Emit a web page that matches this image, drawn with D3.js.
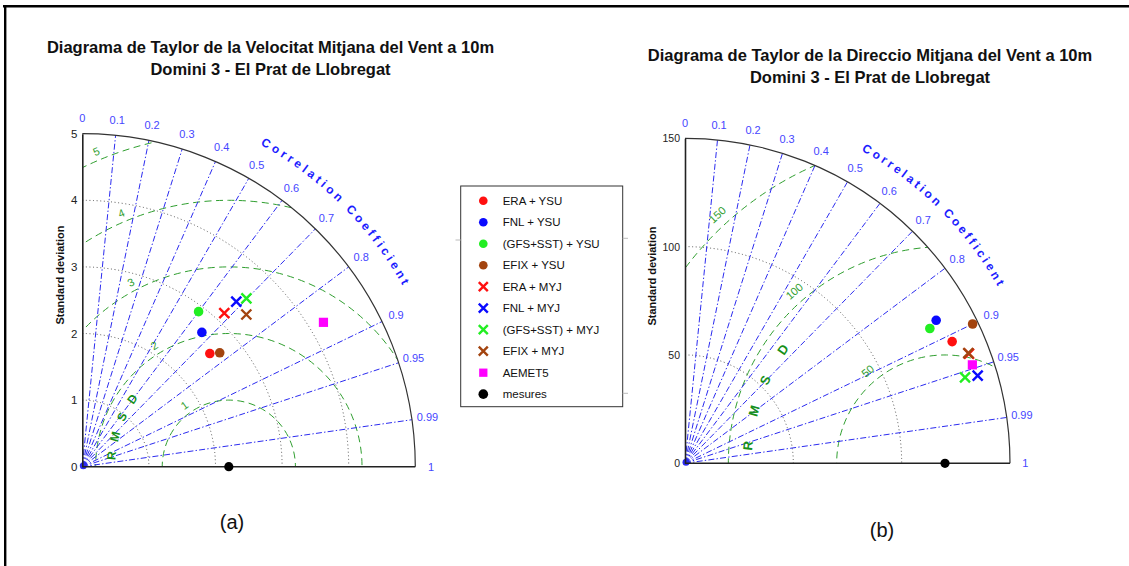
<!DOCTYPE html>
<html><head><meta charset="utf-8">
<script src="https://cdn.jsdelivr.net/npm/d3@7/dist/d3.min.js"></script>
<style>
body{margin:0;background:#fff;}
svg{display:block;font-family:"Liberation Sans",Arial,Helvetica,sans-serif;}
</style></head><body>
<svg id="chart" width="1129" height="566"></svg>
<script>
// ---------------- DATA ----------------
const seriesNames = ["ERA + YSU","FNL + YSU","(GFS+SST) + YSU","EFIX + YSU","ERA + MYJ","FNL + MYJ","(GFS+SST) + MYJ","EFIX + MYJ","AEMET5"];
const refName = "mesures";
const corrTickValues = [0,0.1,0.2,0.3,0.4,0.5,0.6,0.7,0.8,0.9,0.95,0.99,1];
const corrLineValues = [0.1,0.2,0.3,0.4,0.5,0.6,0.7,0.8,0.9,0.95,0.99];

// (a) wind speed
const velTitle = ["Diagrama de Taylor de la Velocitat Mitjana del Vent a 10m","Domini 3 - El Prat de Llobregat"];
const velStdTicks = [0,1,2,3,4,5];
const velStdArcs = [1,2,3,4];
const velRmsdTicks = [1,2,3,4,5];
const velRefStd = 2.2;
const velStd  = [2.56,2.70,2.91,2.68,3.14,3.39,3.53,3.36,4.22];
const velCorr = [0.748,0.665,0.600,0.770,0.679,0.682,0.698,0.733,0.858];

// (b) wind direction
const dirTitle = ["Diagrama de Taylor de la Direccio Mitjana del Vent a 10m","Domini 3 - El Prat de Llobregat"];
const dirStdTicks = [0,50,100,150];
const dirStdArcs = [50,100];
const dirRmsdTicks = [50,100,150];
const dirRefStd = 120;
const dirStd  = [135.5,133.4,129.0,147.5,140.5,141.0,135.2,140.3,140.2];
const dirCorr = [0.910,0.869,0.876,0.900,0.933,0.958,0.956,0.932,0.946];

// ---------------- STYLE ----------------
const seriesColors = ["#ff1010","#0a0aff","#22ee22","#a3440f","#ff1010","#0a0aff","#22ee22","#a3440f","#ff00ff"];
const seriesShapes = ["circle","circle","circle","circle","cross","cross","cross","cross","square"];
const corrColor = "#2b2bf0", corrLabelColor = "#4646ff", rmsdColor = "#2f9e2f";
const ccText = "Correlation Coefficient";

const svg = d3.select("#chart");

// frame
svg.append("line").attr("x1",3).attr("x2",1129).attr("y1",6.2).attr("y2",6.2).attr("stroke","#000").attr("stroke-width",2.4);
svg.append("line").attr("x1",5.2).attr("x2",5.2).attr("y1",5).attr("y2",566).attr("stroke","#000").attr("stroke-width",2.4);

function marker(g, shape, color, x, y, s) {
  if (shape === "circle") {
    g.append("circle").attr("cx",x).attr("cy",y).attr("r",4.8*s).attr("fill",color);
  } else if (shape === "square") {
    g.append("rect").attr("x",x-4.6*s).attr("y",y-4.6*s).attr("width",9.2*s).attr("height",9.2*s).attr("fill",color);
  } else if (shape === "cross") {
    const h = 5*s;
    g.append("path").attr("d",`M${x-h},${y-h}L${x+h},${y+h}M${x-h},${y+h}L${x+h},${y-h}`)
      .attr("stroke",color).attr("stroke-width",2.4).attr("fill","none");
  } else if (shape === "ref") {
    g.append("circle").attr("cx",x).attr("cy",y).attr("r",4.6*s).attr("fill","#000");
  }
}

// measure character widths for the arc text
function charWidths(str, size) {
  const t = svg.append("text").attr("font-size",size).attr("font-weight","bold").attr("x",-1000).attr("y",-1000);
  const w = str.split("").map(ch => { t.text(ch === " " ? "\u00a0" : ch); return t.node().getComputedTextLength(); });
  t.remove();
  return w;
}

function taylor(cfg) {
  const g = svg.append("g");
  const {ox, oy, R, max} = cfg;
  const r = d3.scaleLinear().domain([0,max]).range([0,R]);
  const yS = d3.scaleLinear().domain([0,max]).range([oy, oy-R]);
  const pt = (s,c) => { const a = Math.acos(c); return [ox + r(s)*Math.cos(a), oy - r(s)*Math.sin(a)]; };
  const refX = ox + r(cfg.refStd);

  // title
  cfg.title.forEach((t,i) => {
    g.append("text").attr("x",cfg.titleX).attr("y",cfg.titleY + i*22).attr("text-anchor","middle")
      .attr("font-size",16.5).attr("font-weight","bold").attr("fill","#111").text(t);
  });
  g.append("text").attr("x",cfg.subX).attr("y",cfg.subY).attr("text-anchor","middle")
    .attr("font-size",20).attr("fill","#111").text(cfg.sub);

  const clipId = "clip"+cfg.id;
  g.append("clipPath").attr("id",clipId).append("path")
    .attr("d",`M${ox},${oy}L${ox},${oy-R}A${R},${R} 0 0 1 ${ox+R},${oy}Z`);

  // std dotted arcs
  g.selectAll(".sarc").data(cfg.stdArcs).join("path")
    .attr("d", s => `M${ox},${oy-r(s)}A${r(s)},${r(s)} 0 0 1 ${ox+r(s)},${oy}`)
    .attr("fill","none").attr("stroke","#444").attr("stroke-width",0.9).attr("stroke-dasharray","1,2.6");

  // rmsd circles
  g.append("g").attr("clip-path",`url(#${clipId})`).selectAll("circle").data(cfg.rmsd).join("circle")
    .attr("cx",refX).attr("cy",oy).attr("r",d => r(d))
    .attr("fill","none").attr("stroke",rmsdColor).attr("stroke-width",1).attr("stroke-dasharray","7,4.5");

  // correlation lines
  g.selectAll(".cl").data(corrLineValues).join("line")
    .attr("x1",ox).attr("y1",oy).attr("x2",c => pt(max,c)[0]).attr("y2",c => pt(max,c)[1])
    .attr("stroke",corrColor).attr("stroke-width",1).attr("stroke-dasharray","6,2.2,1.4,2.2");
  g.append("circle").attr("cx",ox+1).attr("cy",oy-1).attr("r",3.5).attr("fill",corrColor);

  // outer arc
  g.append("path").attr("d",`M${ox},${oy-R}A${R},${R} 0 0 1 ${ox+R},${oy}`)
    .attr("fill","none").attr("stroke","#333").attr("stroke-width",1.2);

  // axes
  const ax = g.append("g").attr("transform",`translate(${ox},0)`)
    .call(d3.axisLeft(yS).tickValues(cfg.stdTicks).tickSize(0).tickPadding(5).tickFormat(d3.format("d")));
  ax.select(".domain").attr("stroke","#222").attr("stroke-width",1.6);
  ax.selectAll("text").attr("font-size",cfg.tickFont).attr("fill","#222").attr("font-family","Liberation Sans, Arial, sans-serif");
  g.append("line").attr("x1",ox).attr("x2",ox+R).attr("y1",oy).attr("y2",oy).attr("stroke","#222").attr("stroke-width",1.6);

  // correlation tick labels
  g.selectAll(".ct").data(corrTickValues).join("text")
    .attr("x",c => ox + R*1.047*Math.cos(Math.acos(c)))
    .attr("y",c => oy - R*1.047*Math.sin(Math.acos(c)))
    .attr("text-anchor","middle").attr("dy","0.35em").attr("font-size",11).attr("fill",corrLabelColor)
    .text(c => String(c));

  // "Correlation Coefficient" letter by letter along the arc
  const fs = 12, rr = R*1.105;
  const w = charWidths(ccText, fs);
  const n = w.length, sumW = d3.sum(w);
  const span = (cfg.ccStart - cfg.ccEnd)*Math.PI/180*rr;
  const sp = (span - (sumW - w[0]/2 - w[n-1]/2))/(n-1);
  let acc = 0;
  ccText.split("").forEach((ch,i) => {
    const sCenter = acc + w[i]/2 + i*sp;
    acc += w[i];
    if (ch === " ") return;
    const ang = cfg.ccStart*Math.PI/180 + w[0]/2/rr - sCenter/rr;
    const deg = ang*180/Math.PI;
    g.append("text")
      .attr("transform",`translate(${ox+rr*Math.cos(ang)},${oy-rr*Math.sin(ang)}) rotate(${90-deg})`)
      .attr("text-anchor","middle").attr("font-size",fs).attr("font-weight","bold").attr("fill","#1c1cff").text(ch);
  });

  // rmsd labels
  g.selectAll(".rl").data(cfg.rmsd).join("text")
    .attr("transform",(d,i) => {
      const phi = cfg.rmsdLabelAngles[i]*Math.PI/180, rad = r(d)+cfg.rmsdLabelOffset;
      return `translate(${refX+rad*Math.cos(phi)},${oy-rad*Math.sin(phi)}) rotate(${90-cfg.rmsdLabelAngles[i]})`;
    })
    .attr("text-anchor","middle").attr("dy","0.35em").attr("font-size",11).attr("fill",rmsdColor)
    .text(d => d);

  // RMSD letters
  "RMSD".split("").forEach((ch,i) => {
    const deg = cfg.letterAngles[i], phi = deg*Math.PI/180, rad = r(cfg.letterRadius);
    g.append("text").attr("transform",`translate(${refX+rad*Math.cos(phi)},${oy-rad*Math.sin(phi)}) rotate(${90-deg})`)
      .attr("text-anchor","middle").attr("dy","0.35em").attr("font-size",cfg.letterFont).attr("font-weight","bold")
      .attr("fill","#16901a").text(ch);
  });

  // y label
  g.append("text").attr("transform",`translate(${cfg.ylabX},${cfg.ylabY}) rotate(-90)`).attr("text-anchor","middle")
    .attr("dy","0.35em").attr("font-size",11).attr("font-weight","bold").attr("fill","#111").text("Standard deviation");

  // data markers
  const mg = g.append("g");
  cfg.std.forEach((s,i) => {
    const [x,y] = pt(s, cfg.corr[i]);
    marker(mg, seriesShapes[i], seriesColors[i], x, y, 1);
  });
  const [rx, ry] = pt(cfg.refStd, 1);
  marker(mg, "ref", "#000", rx, ry, 1);
}

taylor({id:"a", ox:82.3, oy:466.7, R:333, max:5, refStd:velRefStd, std:velStd, corr:velCorr,
  stdTicks:velStdTicks, stdArcs:velStdArcs, rmsd:velRmsdTicks, title:velTitle, titleX:270.5, titleY:52.5,
  sub:"(a)", subX:232, subY:529, tickFont:11.5, ccStart:60.4, ccEnd:29.8,
  rmsdLabelAngles:[125.8,121.6,118,113,112.8], rmsdLabelOffset:9,
  letterAngles:[174.6,165.2,155,144.9], letterRadius:1.77, letterFont:12,
  ylabX:60, ylabY:275});

taylor({id:"b", ox:685, oy:463.3, R:325, max:150, refStd:dirRefStd, std:dirStd, corr:dirCorr,
  stdTicks:dirStdTicks, stdArcs:dirStdArcs, rmsd:dirRmsdTicks, title:dirTitle, titleX:870, titleY:60.5,
  sub:"(b)", subX:882, subY:537, tickFont:10.5, ccStart:59.9, ccEnd:29.8,
  rmsdLabelAngles:[130,131.2,132.5], rmsdLabelOffset:12,
  letterAngles:[174.9,164.6,155.2,144.9], letterRadius:91.4, letterFont:13,
  ylabX:652, ylabY:276});

// legend
const lg = svg.append("g");
const lx = 460.7, ly = 186, lw = 162, lh = 220.7, step = 21.5;
lg.append("rect").attr("x",lx).attr("y",ly).attr("width",lw).attr("height",lh).attr("fill","#fff").attr("stroke","#333").attr("stroke-width",1);
[[455.5,240,460.7,240],[622.7,238.3,628,238.3],[622.7,393.3,628,393.3]].forEach(t =>
  lg.append("line").attr("x1",t[0]).attr("y1",t[1]).attr("x2",t[2]).attr("y2",t[3]).attr("stroke","#bbb").attr("stroke-width",1));
const legendNames = seriesNames.concat([refName]);
legendNames.forEach((name,i) => {
  const y = 200.7 + i*step;
  if (i < seriesNames.length) marker(lg, seriesShapes[i], seriesColors[i], 483.3, y, 0.9);
  else marker(lg, "ref", "#000", 483.3, y, 1.05);
  lg.append("text").attr("x",502.7).attr("y",y).attr("dy","0.35em").attr("font-size",11.5).attr("fill","#111").text(name);
});
</script>
</body></html>
